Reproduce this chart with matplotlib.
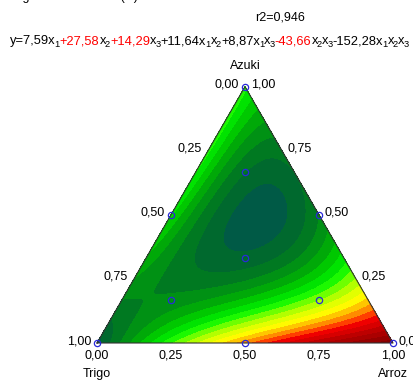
import matplotlib
matplotlib.use('Agg')
import matplotlib.pyplot as plt
import matplotlib.tri as mtri
import numpy as np
from matplotlib.colors import LinearSegmentedColormap

plt.rcParams['font.family'] = ['Liberation Sans', 'DejaVu Sans']

# model coefficients: x1 = Trigo, x2 = Arroz, x3 = Azuki
b_lin = [7.59, 27.58, 14.29]
b_bin = [11.64, 8.87, -43.66]   # x1x2, x1x3, x2x3
b_ter = -152.28
r2_text = 'r2=0,946'

# design points (simplex centroid + axial)
pt_trigo = [1, 0, 0, 0.5, 0.5, 0, 1/3, 2/3, 1/6, 1/6]
pt_arroz = [0, 1, 0, 0.5, 0, 0.5, 1/3, 1/6, 2/3, 1/6]
pt_azuki = [0, 0, 1, 0, 0.5, 0.5, 1/3, 1/6, 1/6, 2/3]

tick_vals = [0, 0.25, 0.5, 0.75, 1.0]
tick_labels = ['0,00', '0,25', '0,50', '0,75', '1,00']

# equation pieces, "_n" marks a subscript
eq_parts = [('y=7,59x_1', 'black'), ('+27,58', 'red'), ('x_2', 'black'),
            ('+14,29', 'red'), ('x_3+11,64x_1x_2+8,87x_1x_3', 'black'),
            ('-43,66', 'red'), ('x_2x_3-152,28x_1x_2x_3', 'black')]


def model(a, b, c):
    return (b_lin[0]*a + b_lin[1]*b + b_lin[2]*c + b_bin[0]*a*b + b_bin[1]*a*c
            + b_bin[2]*b*c + b_ter*a*b*c)


def to_xy(arroz, azuki):
    arroz = np.asarray(arroz, float)
    azuki = np.asarray(azuki, float)
    return arroz + azuki/2, azuki*np.sqrt(3)/2


W, H = 414, 380
fig = plt.figure(figsize=(W/100, H/100), dpi=100)
ax = fig.add_axes([0, 0, 1, 1])
# pixel anchors of the triangle: left corner (97,343), side 296 px
px0, py0, s = 97, 343, 296
ax.set_xlim(-px0/s, (W-px0)/s)
ax.set_ylim(-(H-py0)/s, py0/s)
ax.axis('off')

# grid on the simplex
n = 120
A, B = [], []
for i in range(n+1):
    for j in range(n+1-i):
        A.append(i/n)
        B.append(j/n)
A = np.array(A); B = np.array(B); C = 1 - A - B
X, Y = to_xy(B, C)
Z = model(A, B, C)
tri = mtri.Triangulation(X, Y)

levels = np.arange(7.0, 29.0, 1.0)
anchors = [(7.0, (0, 90, 70)), (8.0, (0, 105, 45)), (9.0, (0, 122, 32)),
           (10.0, (0, 145, 20)), (11.0, (0, 170, 8)), (12.0, (0, 200, 0)),
           (13.0, (0, 228, 0)), (14.0, (30, 250, 0)), (15.0, (110, 255, 0)),
           (16.0, (180, 255, 0)), (17.0, (225, 255, 0)), (18.0, (255, 250, 0)),
           (19.0, (255, 200, 0)), (20.0, (255, 140, 0)), (21.0, (255, 60, 0)),
           (22.0, (240, 0, 0)), (24.0, (190, 0, 0)), (27.6, (120, 0, 0))]
lo, hi = anchors[0][0], anchors[-1][0]
cm = LinearSegmentedColormap.from_list(
    'g2r', [((v-lo)/(hi-lo), tuple(np.array(c)/255)) for v, c in anchors])
band_cols = [cm(float(np.clip((v-lo)/(hi-lo), 0, 1))) for v in levels[:-1]]
ax.tricontourf(tri, Z, levels=levels, colors=band_cols)

# triangle outline
tx, ty = to_xy([0, 1, 0, 0], [0, 0, 1, 0])
ax.plot(tx, ty, color='#333333', lw=0.8)

# design points
dx, dy = to_xy(pt_arroz, pt_azuki)
ax.plot(dx, dy, 'o', mfc='none', mec='#2a2ad8', ms=4.5, mew=0.9, clip_on=False)

fs = 9
off = 6/s
# left side: Trigo fraction (0 at top, 1 at bottom-left)
for v, lab in zip(tick_vals, tick_labels):
    x, y = to_xy(0, 1-v)
    ax.text(x - off, y + 2/s, lab, ha='right', va='center', fontsize=fs)
# right side: Azuki fraction
for v, lab in zip(tick_vals, tick_labels):
    x, y = to_xy(1-v, v)
    ax.text(x + off, y + 2/s, lab, ha='left', va='center', fontsize=fs)
# bottom: Arroz fraction
for v, lab in zip(tick_vals, tick_labels):
    x, y = to_xy(v, 0)
    ax.text(x, y - 13/s, lab, ha='center', va='center', fontsize=fs)

x, y = to_xy(0, 1)
ax.text(x, y + 21/s, 'Azuki', ha='center', va='center', fontsize=fs)
x, y = to_xy(0, 0)
ax.text(x, y - 31/s, 'Trigo', ha='center', va='center', fontsize=fs)
x, y = to_xy(1, 0)
ax.text(x, y - 31/s, 'Arroz', ha='center', va='center', fontsize=fs)

# header texts (pixel positions)
fig.text(12/W, 1 + 3/H, 'Figura 4a: Firmeza (N) das massas cruas', ha='left',
         va='center', fontsize=fs)
fig.text(280/W, 1 - 18/H, r2_text, ha='center', va='center', fontsize=fs)

# equation, drawn piece by piece
fig.canvas.draw()
rend = fig.canvas.get_renderer()
fs_eq = 9.3
xpos = 10
base = H - 44
for txt, col in eq_parts:
    chunks = []
    i = 0
    while i < len(txt):
        if txt[i] == '_':
            chunks.append((txt[i+1], True))
            i += 2
        else:
            j = i
            while j < len(txt) and txt[j] != '_':
                j += 1
            chunks.append((txt[i:j], False))
            i = j
    for c, sub in chunks:
        if sub:
            t = fig.text((xpos - 1)/W, (base - 3)/H, c, ha='left', va='baseline',
                         fontsize=fs_eq*0.72, color='black')
        else:
            t = fig.text(xpos/W, base/H, c, ha='left', va='baseline',
                         fontsize=fs_eq, color=col)
        xpos = t.get_window_extent(rend).x1

fig.savefig('out.png', dpi=100)
